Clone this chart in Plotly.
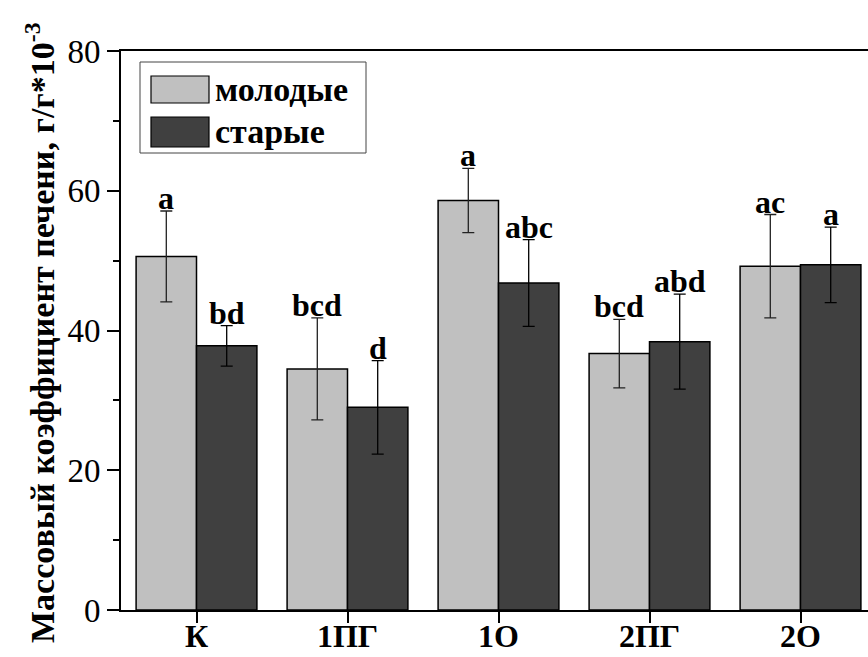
import plotly.graph_objects as go

categories = ["К", "1ПГ", "1О", "2ПГ", "2О"]
series_names = ["молодые", "старые"]
young = [50.6, 34.5, 58.6, 36.7, 49.2]
young_err = [6.5, 7.3, 4.6, 4.9, 7.4]
old = [37.8, 29.0, 46.8, 38.4, 49.4]
old_err = [2.9, 6.7, 6.2, 6.8, 5.4]
young_labels = ["a", "bcd", "a", "bcd", "ac"]
old_labels = ["bd", "d", "abc", "abd", "a"]
y_ticks = [0, 20, 40, 60, 80]
y_title = "Массовый коэффициент печени, г/г*10<sup>-3</sup>"

SERIF = "Liberation Serif, Times New Roman, serif"
C_YOUNG = "#c0c0c0"
C_OLD = "#404040"

fig = go.Figure()
fig.add_trace(go.Bar(
    x=categories, y=young, name=series_names[0],
    marker=dict(color=C_YOUNG, line=dict(color="black", width=1.5)),
    error_y=dict(type="data", array=young_err, color="#222", thickness=1.3, width=6),
    showlegend=False,
))
fig.add_trace(go.Bar(
    x=categories, y=old, name=series_names[1],
    marker=dict(color=C_OLD, line=dict(color="black", width=1.5)),
    error_y=dict(type="data", array=old_err, color="black", thickness=1.3, width=6),
    showlegend=False,
))

annotations = []
for i, c in enumerate(categories):
    for off, vals, errs, labs in ((-0.2, young, young_err, young_labels), (0.2, old, old_err, old_labels)):
        annotations.append(dict(
            x=i + off, y=vals[i] + errs[i], xref="x", yref="y",
            text="<b>%s</b>" % labs[i], showarrow=False,
            yanchor="bottom", xanchor="center", yshift=-7,
            font=dict(family=SERIF, size=32, color="black"),
        ))

L, B, T = 121, 610, 51
W, H = 868 - L, B - T
def px(x):
    return (x - L) / W
def py(y):
    return (B - y) / H

# y axis title
annotations.append(dict(
    x=px(40), y=py(333), xref="paper", yref="paper", text="<b>%s</b>" % y_title,
    textangle=-90, showarrow=False, xanchor="center", yanchor="middle",
    font=dict(family=SERIF, size=34, color="black"),
))

# custom legend
shapes = [
    dict(type="rect", xref="paper", yref="paper", x0=px(140), x1=px(366), y0=py(153), y1=py(62),
         line=dict(color="#444", width=1), fillcolor="white", layer="above"),
    dict(type="rect", xref="paper", yref="paper", x0=px(151), x1=px(209), y0=py(103), y1=py(76),
         line=dict(color="black", width=1.2), fillcolor=C_YOUNG, layer="above"),
    dict(type="rect", xref="paper", yref="paper", x0=px(151), x1=px(209), y0=py(147), y1=py(117),
         line=dict(color="black", width=1.2), fillcolor=C_OLD, layer="above"),
]
for name, yc in zip(series_names, (89, 132)):
    annotations.append(dict(
        x=px(213), y=py(yc), xref="paper", yref="paper", text="<b>%s</b>" % name,
        showarrow=False, xanchor="left", yanchor="middle",
        font=dict(family=SERIF, size=34, color="black"),
    ))

fig.update_layout(
    width=868, height=657,
    margin=dict(l=L, r=0, t=T, b=657 - B, pad=0, autoexpand=False),
    paper_bgcolor="white", plot_bgcolor="white",
    barmode="group", bargap=0.2, bargroupgap=0,
    annotations=annotations, shapes=shapes,
    showlegend=False,
)
fig.update_xaxes(
    range=[-0.5, -0.5 + W / 151], showline=True, linecolor="black", linewidth=2,
    mirror=True, ticks="outside", ticklen=11, tickwidth=1.5, tickcolor="black",
    ticklabelstandoff=-14,
    showgrid=False, zeroline=False, automargin=False,
    tickfont=dict(family=SERIF, size=32, color="black"),
    tickprefix="<b>", ticksuffix="</b>",
)
fig.update_yaxes(
    range=[0, 80], tickvals=y_ticks, showline=True, linecolor="black", linewidth=2,
    ticks="outside", ticklen=12, tickwidth=1.5, tickcolor="black",
    minor=dict(dtick=10, ticks="outside", ticklen=6, tickwidth=1.5, tickcolor="black"),
    showgrid=False, zeroline=False, automargin=False,
    tickfont=dict(family=SERIF, size=33, color="black"),
)

fig.write_html("out.html")
